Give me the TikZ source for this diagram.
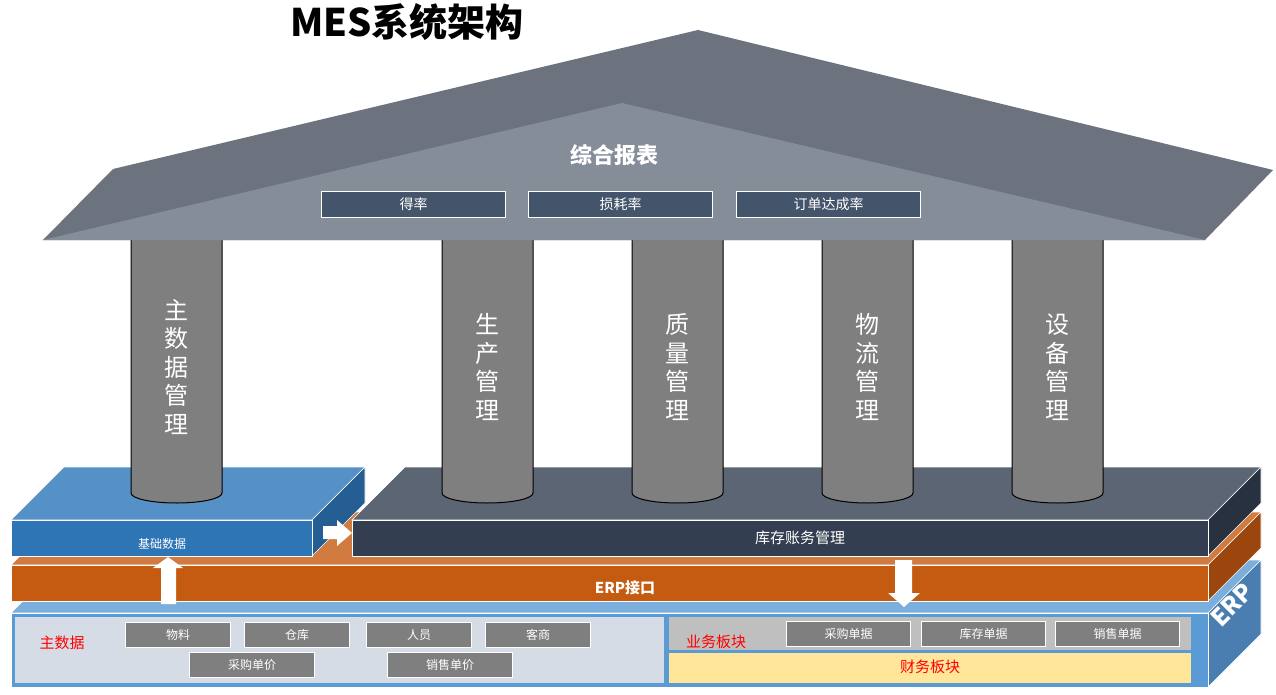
\documentclass[tikz,border=0pt]{standalone}
\usepackage{fontspec}
\setmainfont{Noto Sans CJK SC}
\usetikzlibrary{positioning}

\definecolor{roofback}{HTML}{6C737E}
\definecolor{rooffront}{HTML}{858D99}
\definecolor{pillargray}{HTML}{7F7F7F}
\definecolor{boxblue}{HTML}{44546A}
\definecolor{darktop}{HTML}{5B6573}
\definecolor{darkfront}{HTML}{333F50}
\definecolor{darkside}{HTML}{28313F}
\definecolor{bluetop}{HTML}{5590C6}
\definecolor{bluefront}{HTML}{2E75B6}
\definecolor{blueside}{HTML}{245E92}
\definecolor{orangetop}{HTML}{D27B41}
\definecolor{orangefront}{HTML}{C55A11}
\definecolor{orangeside}{HTML}{9B460D}
\definecolor{basetop}{HTML}{7AAEDC}
\definecolor{basefront}{HTML}{5B9BD5}
\definecolor{baseside}{HTML}{4A7EB0}
\definecolor{panelgray}{HTML}{D6DCE5}
\definecolor{bandgray}{HTML}{BFBFBF}
\definecolor{bandyellow}{HTML}{FFE699}

\newcommand*\depth{53}
\newcommand*\pillarwidth{91}
% a flat box seen from the front right: front face, top face, side face
\newcommand*\slab[5]{%
    \fill[#5top, draw=white, line width=0.6pt] (#1,#2) -- ++(\depth,-\depth) -- (#3+\depth,#2-\depth) -- (#3,#2) -- cycle;
    \fill[#5side, draw=white, line width=0.6pt] (#3,#2) -- (#3+\depth,#2-\depth) -- (#3+\depth,#4-\depth) -- (#3,#4) -- cycle;
    \fill[#5front, draw=white, line width=0.6pt] (#1,#2) rectangle (#3,#4);
}
\tikzset{cell/.style={
    draw=white,
    line width=1pt,
    fill=pillargray,
    text=white,
    anchor=north west,
    inner sep=0pt,
    minimum width=#1,
    minimum height=25pt,
    font=\fontsize{12}{12}\selectfont
}}
\tikzset{rate/.style={
    cell=184pt,
    fill=boxblue,
    minimum height=26pt,
    font=\fontsize{14}{14}\selectfont
}}
\tikzset{pillar/.style={
    fill=pillargray,
    draw=black,
    line width=1pt
}}
\tikzset{redtext/.style={text=red, font=\fontsize{15}{15}\selectfont}}

\begin{document}
\begin{tikzpicture}[x=1pt,y=-1pt]
    \useasboundingbox (0,0) rectangle (1276,695);

    % The ERP base and the two layers on top of it.
    \slab{11}{613}{1208}{687}{base}
    \slab{11}{565}{1208}{601}{orange}
    \slab{11}{520}{312}{556}{blue}
    \slab{352}{520}{1208}{556}{dark}

    \node[rotate=45, text=white, font=\bfseries\fontsize{24}{24}\selectfont] (erp) at (1232,605) {ERP};
    \node[text=white, font=\bfseries\fontsize{15}{15}\selectfont] (erpjk) at (625,588) {ERP接口};
    \node[text=white, font=\fontsize{12}{12}\selectfont] (jichu) at (162,544) {基础数据};
    \node[text=white, font=\fontsize{15}{15}\selectfont] (kucun) at (800,538) {库存账务管理};

    % Panels in the front of the base.
    \fill[panelgray] (15,617) rectangle (664,683);
    \fill[bandgray] (669,617) rectangle (1191,650);
    \fill[bandyellow] (669,653) rectangle (1191,683);

    \node[redtext] (zhushuju) at (62,643) {主数据};
    \node[cell=105pt] (wuliao) at (125,622) {物料};
    \node[cell=105pt] (cangku) at (244,622) {仓库};
    \node[cell=105pt] (renyuan) at (366,622) {人员};
    \node[cell=105pt] (keshang) at (485,622) {客商};
    \node[cell=125pt] (cgdj) at (189,652) {采购单价};
    \node[cell=125pt] (xsdj) at (387,652) {销售单价};

    \node[redtext] (yewu) at (716,642) {业务板块};
    \node[cell=124pt] (cgdanju) at (786,621) {采购单据};
    \node[cell=124pt] (kcdanju) at (921,621) {库存单据};
    \node[cell=124pt] (xsdanju) at (1055,621) {销售单据};
    \node[redtext] (caiwu) at (930,667) {财务板块};

    % The pillars, left to right.
    \foreach \x/\name/\txt in {131/zsjgl/{主\\数\\据\\管\\理},442/scgl/{生\\产\\管\\理},632/zlgl/{质\\量\\管\\理},822/wlgl/{物\\流\\管\\理},1012/sbgl/{设\\备\\管\\理}}
    {
        \draw[pillar] (\x,236) -- (\x,493) arc[start angle=180, end angle=0, x radius=\pillarwidth/2, y radius=10] -- (\x+\pillarwidth,236);
        \node[text=white, align=center, font=\fontsize{24}{28.5}\selectfont] (\name) at (\x+\pillarwidth/2,367) {\txt};
    }

    % The roof.
    \fill[roofback] (43,240) -- (113,169) -- (698,30) -- (1273,170) -- (1205,240) -- cycle;
    \fill[rooffront] (43,240) -- (622,103) -- (1205,240) -- cycle;
    \node[text=white, font=\bfseries\fontsize{22}{22}\selectfont] (zhbb) at (614,155) {综合报表};
    \node[rate] (delv) at (321,191) {得率};
    \node[rate] (shlv) at (528,191) {损耗率};
    \node[rate] (ddlv) at (736,191) {订单达成率};

    % White block arrows between the layers.
    \fill[white] (161,604) -- (161,568) -- (153,568) -- (168,557) -- (183,568) -- (176,568) -- (176,604) -- cycle;
    \fill[white] (323,526) -- (337,526) -- (337,520) -- (352,533) -- (337,546) -- (337,539) -- (323,539) -- cycle;
    \fill[white] (895,560) -- (912,560) -- (912,593) -- (920,593) -- (904,607) -- (888,593) -- (895,593) -- cycle;

    \node[font=\bfseries\fontsize{38}{38}\selectfont] (title) at (407,22) {MES系统架构};
\end{tikzpicture}
\end{document}
